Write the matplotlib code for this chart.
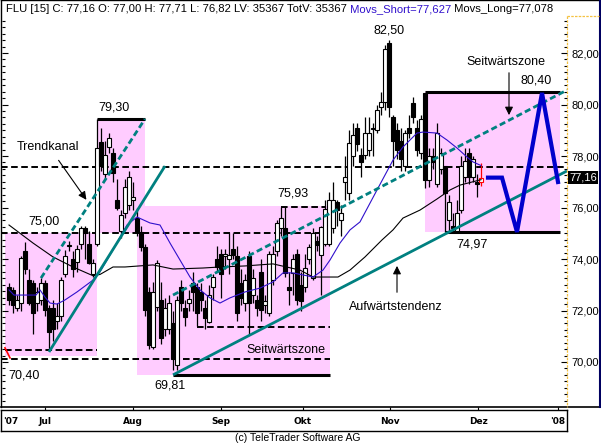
import matplotlib
matplotlib.use('Agg')
import matplotlib.pyplot as plt
from matplotlib.lines import Line2D
from matplotlib.patches import Rectangle
import numpy as np

# ---------------- data ----------------
opens = [72.9, 72.8, 72.1, 72.3, 74.3, 73.2, 73.05, 72.3, 72.4, 73.05,
         72.1, 72.1, 71.6, 71.8, 73.4, 74.5, 74.0, 73.9, 74.6, 75.2,
         74.6, 73.4, 74.6, 78.55, 77.3, 78.35, 78.1, 76.3, 75.1, 75.8,
         76.1, 76.3, 75.6, 75.05, 74.45, 72.7, 70.6, 72.15, 72.4, 71.3,
         71.3, 71.5, 69.9, 72.9, 72.1, 72.3, 73.05, 72.9, 72.7, 72.1,
         71.55, 72.9, 74.0, 74.2, 74.1, 74.0, 74.4, 74.1, 73.05, 72.3,
         74.1, 72.6, 72.4, 73.5, 72.2, 71.9, 73.2, 74.3, 75.2, 75.2,
         72.9, 73.45, 74.2, 73.0, 72.9, 74.0, 73.25, 74.7, 74.15, 74.6,
         74.6, 75.2, 76.2, 75.5, 77.0, 76.55, 78.0, 79.1, 78.05, 78.05,
         78.25, 79.1, 79.0, 79.9, 80.1, 82.4, 79.5, 79.0, 78.6, 77.6,
         79.1, 80.05, 79.1, 78.1, 80.45, 77.05, 78.0, 76.9, 77.5, 77.6,
         75.5, 75.3, 75.1, 75.9, 77.2, 78.1, 77.2, 77.0, 77.0]
highs = [73.07, 72.9, 72.6, 74.1, 74.65, 73.6, 73.2, 72.9, 73.25, 73.2,
         72.2, 72.4, 72.3, 73.3, 74.35, 74.7, 74.3, 74.55, 75.3, 75.3,
         75.1, 74.0, 79.44, 79.1, 78.6, 78.9, 78.3, 77.1, 75.9, 77.1,
         77.4, 77.0, 76.0, 75.3, 74.6, 72.9, 73.1, 73.95, 73.1, 72.5,
         72.6, 72.0, 72.55, 73.2, 72.4, 72.8, 73.5, 73.05, 73.05, 72.4,
         73.0, 73.4, 74.5, 74.4, 74.4, 75.0, 75.0, 74.5, 73.6, 73.4,
         74.3, 73.6, 72.6, 74.0, 72.6, 74.3, 74.5, 75.5, 76.02, 76.02,
         73.5, 74.2, 74.4, 73.5, 74.2, 74.6, 75.2, 74.9, 75.3, 76.3,
         76.6, 77.0, 76.3, 76.1, 78.0, 79.0, 79.3, 79.3, 78.3, 79.5,
         79.5, 79.3, 80.0, 80.5, 82.3, 82.5, 79.6, 79.3, 79.1, 79.0,
         79.6, 80.3, 79.4, 79.6, 80.45, 78.3, 78.3, 79.3, 78.3, 77.6,
         76.5, 75.8, 76.3, 78.0, 78.3, 78.3, 78.0, 77.3, 77.71]
lows = [72.2, 71.9, 72.0, 72.0, 73.4, 72.2, 71.1, 72.0, 72.2, 71.8,
        70.47, 70.8, 71.3, 71.6, 73.3, 74.3, 73.3, 73.5, 74.4, 74.0,
        73.8, 73.3, 74.5, 77.4, 77.1, 78.1, 77.0, 75.9, 74.8, 75.6,
        75.9, 75.9, 74.9, 74.3, 71.8, 70.5, 70.5, 72.0, 70.7, 71.0,
        71.1, 69.7, 69.7, 72.0, 71.4, 72.0, 72.0, 71.4, 72.0, 71.3,
        71.5, 72.4, 73.5, 72.5, 73.6, 73.4, 74.0, 71.6, 72.2, 72.0,
        71.1, 72.3, 71.8, 71.6, 71.9, 71.8, 73.0, 74.1, 74.9, 73.3,
        72.2, 72.6, 72.2, 72.0, 72.7, 73.8, 73.2, 74.3, 72.6, 74.5,
        74.5, 75.0, 75.3, 74.9, 76.3, 76.3, 77.6, 78.2, 77.2, 77.9,
        78.0, 78.0, 78.9, 79.6, 79.8, 79.5, 77.6, 77.9, 77.4, 77.4,
        78.7, 79.3, 78.0, 77.9, 76.75, 76.8, 77.5, 76.8, 77.3, 75.05,
        75.05, 75.05, 75.05, 75.8, 77.0, 76.9, 77.0, 76.4, 76.82]
closes = [72.4, 72.2, 72.4, 74.05, 73.6, 72.3, 71.9, 72.7, 73.05, 72.0,
          71.15, 71.3, 71.8, 73.2, 74.1, 74.55, 73.6, 74.4, 75.2, 75.0,
          73.85, 73.85, 78.3, 77.6, 78.05, 78.7, 77.35, 76.0, 75.7, 76.8,
          77.2, 76.4, 75.05, 74.45, 72.0, 70.65, 72.7, 73.85, 70.95, 72.1,
          72.3, 70.1, 72.4, 72.3, 71.75, 72.45, 72.7, 71.9, 72.4, 71.7,
          72.6, 73.3, 73.7, 73.4, 74.2, 74.15, 74.15, 71.9, 72.5, 73.2,
          72.3, 73.25, 72.1, 72.0, 72.35, 74.2, 74.2, 75.4, 75.6, 73.45,
          72.8, 74.0, 72.4, 72.35, 73.65, 74.45, 75.0, 74.55, 75.25, 75.95,
          76.3, 76.3, 75.9, 75.8, 77.2, 78.5, 78.8, 78.45, 77.75, 78.9,
          78.9, 79.05, 79.8, 80.1, 82.15, 79.9, 78.6, 78.25, 77.9, 78.9,
          78.9, 79.5, 78.25, 79.45, 77.05, 78.0, 77.75, 78.9, 78.1, 76.55,
          76.2, 75.2, 75.8, 77.6, 77.8, 77.2, 77.9, 76.9, 77.16]

short_ma_x = [0, 1.25, 6.75, 7.75, 9, 10.25, 12, 14, 17, 21, 22.75, 26, 27.75, 29.5, 32,
              35.25, 37.75, 40.25, 42.75, 45.25, 47.75, 50.25, 52.75, 55.25, 59,
              62.75, 66, 68.5, 71, 73.5, 76, 78.5, 80.25, 82.75, 85.25, 87.75,
              92, 96, 98.5, 102, 103.5, 107, 109.5, 112, 114.5, 116, 118]
short_ma_y = [72.80, 72.60, 72.60, 72.80, 72.52, 72.29, 72.25, 72.41, 72.72, 73.18, 73.50,
              74.35, 74.85, 75.32, 75.63, 75.40, 75.32, 74.62, 73.96, 73.30, 72.80,
              72.49, 72.29, 72.49, 72.72, 72.87, 73.11, 73.46, 73.46, 73.38, 73.30,
              73.57, 73.96, 74.62, 75.13, 75.44, 76.68, 77.84, 78.35, 78.89, 78.93,
              78.89, 78.62, 78.31, 77.96, 77.77, 77.63]
long_ma_x = [0, 6, 11, 16, 21, 22.75, 26, 29, 36, 41, 48.5, 52.75, 59, 66, 72.75,
             76, 82.25, 85.25, 89, 93.25, 96, 98.5, 102.75, 107, 110.25, 112.75, 118]
long_ma_y = [75.32, 74.62, 74.08, 73.69, 73.35, 73.40, 73.69, 73.69, 73.77, 73.61, 73.65,
             73.69, 73.73, 73.81, 73.57, 73.30, 73.30, 73.57, 74.08, 74.74, 75.13,
             75.59, 75.90, 76.33, 76.68, 76.87, 77.08]
movs_short_last = 77.627
movs_long_last = 77.078
volume = 35367

month_pos = [-1.5, 9, 31, 53, 73.5, 95.25, 117.25, 137.25]
month_labels = ["'07", "Jul", "Aug", "Sep", "Okt", "Nov", "Dez", "'08"]

# annotation geometry (index, price)
zones = [  # x0, x1, y0, y1
    (-1.0, 22.0, 70.23, 75.01),
    (22.0, 34.0, 75.01, 79.44),
    (32.0, 80.25, 69.50, 76.06),
    (104.0, 137.75, 75.05, 80.49),
]
dashed_levels = [  # price, x0, x1
    (77.58, -2.0, 139.5),
    (75.01, -2.0, 78.25),
    (70.47, -1.0, 22.0),
    (70.10, -2.0, 80.25),
    (71.36, 47.0, 80.25),
    (76.02, 68.0, 79.25),
]
solid_levels = [
    (79.44, 22.0, 34.0),
    (69.50, 41.0, 80.25),
    (80.49, 104.0, 137.75),
    (75.05, 109.0, 137.75),
]
teal_solid = [((41, 69.50), (139.5, 77.42)), ((10, 70.39), (39, 77.61))]
teal_dashed = [((8, 73.26), (34, 79.44)), ((41, 72.60), (139.5, 80.56))]
proj_x = [119.75, 123.25, 127, 133.25, 137.25]
proj_y = [77.16, 77.16, 75.05, 80.45, 76.99]

# ---------------- figure ----------------
W, H = 601, 444
fig = plt.figure(figsize=(W / 100, H / 100), dpi=100)
FONT = ['Liberation Sans', 'DejaVu Sans']
plt.rcParams['font.family'] = FONT

def fx(px):
    return px / W

def fy(py):
    return 1 - py / H

def ypix_to_price(py):
    return 82 - (py - 53) / 25.75

def xpix_to_idx(px):
    return (px - 9) / 4

ax = fig.add_axes([fx(2), fy(407), fx(567) - fx(2), fy(16) - fy(407)])
ax.set_xlim(xpix_to_idx(2), xpix_to_idx(567))
ax.set_ylim(ypix_to_price(407), ypix_to_price(16))
for s in ax.spines.values():
    s.set_visible(False)

PINK = '#FFCCFF'
TEAL = '#008080'
for x0, x1, y0, y1 in zones:
    ax.add_patch(Rectangle((x0, y0), x1 - x0, y1 - y0, facecolor=PINK, edgecolor='none', zorder=0))

for p, x0, x1 in dashed_levels:
    ax.plot([x0, x1], [p, p], color='black', lw=1.4, linestyle=(0, (3.4, 1.8)), zorder=2)
for p, x0, x1 in solid_levels:
    ax.plot([x0, x1], [p, p], color='black', lw=2.2, solid_capstyle='butt', zorder=2)

# candles
n = len(closes)
for i in range(n):
    o, h, l, c = opens[i], highs[i], lows[i], closes[i]
    last = (i == n - 1)
    col = 'red' if last else 'black'
    ax.vlines(i, l, h, color=col, lw=0.9, zorder=3)
    bottom = min(o, c)
    height = max(abs(c - o), 0.03)
    fc = 'white' if c >= o else 'black'
    ax.add_patch(Rectangle((i - 0.38, bottom), 0.76, height, facecolor=fc,
                           edgecolor=col, lw=0.8, zorder=4))

ax.plot(long_ma_x, long_ma_y, color='black', lw=0.8, zorder=5)
ax.plot(short_ma_x, short_ma_y, color='#3010CC', lw=0.8, zorder=5)

for (a, b) in teal_solid:
    ax.plot([a[0], b[0]], [a[1], b[1]], color=TEAL, lw=2.0, solid_capstyle='butt', zorder=6)
for (a, b) in teal_dashed:
    ax.plot([a[0], b[0]], [a[1], b[1]], color=TEAL, lw=2.0, linestyle=(0, (2.2, 1.2)), zorder=6)

ax.plot(proj_x, proj_y, color='#0000CC', lw=3.0, solid_joinstyle='miter', zorder=7)

# red marker lower left
ax.plot([-1.0, 0.25], [70.55, 70.16], color='red', lw=1.2, zorder=7)

# annotation texts
TXT = dict(fontsize=9, ha='center', va='center', color='black', zorder=8)
ax.text(9.75, 78.35, 'Trendkanal', **TXT)
ax.text(8.75, 75.44, '75,00', **TXT)
ax.text(3.75, 69.46, '70,40', **TXT)
ax.text(26.25, 79.90, '79,30', **TXT)
ax.text(40.25, 69.07, '69,81', **TXT)
ax.text(71.0, 76.56, '75,93', **TXT)
ax.text(69.25, 70.47, 'Seitwärtszone', **TXT)
ax.text(95.0, 82.89, '82,50', **TXT)
ax.text(124.25, 81.65, 'Seitwärtszone', **TXT)
ax.text(131.75, 80.95, '80,40', **TXT)
ax.text(115.75, 74.58, '74,97', **TXT)
ax.text(96.75, 72.14, 'Aufwärtstendenz', **TXT)

arrow_kw = dict(arrowstyle='-|>', color='black', lw=0.8, mutation_scale=12)
ax.annotate('', xy=(19.75, 76.21), xytext=(12, 77.92), arrowprops=arrow_kw, zorder=8)
ax.annotate('', xy=(125, 79.48), xytext=(125, 81.34), arrowprops=arrow_kw, zorder=8)
ax.annotate('', xy=(97, 73.84), xytext=(97, 72.6), arrowprops=arrow_kw, zorder=8)

# axes ticks
ax.yaxis.tick_right()
ax.set_yticks(np.arange(70, 83, 2))
ax.set_yticks(np.arange(68.5, 83.5, 0.25), minor=True)
ax.set_yticklabels([f'{v:.2f}'.replace('.', ',') for v in np.arange(70, 83, 2)])
ax.tick_params(axis='y', which='major', direction='in', length=4, width=0.8,
               labelsize=8, pad=3, right=True, left=True)
ax.tick_params(axis='y', which='minor', direction='in', length=2, width=0.8,
               right=True, left=True)
ax.set_xticks(month_pos[1:])
ax.set_xticklabels([])
ax.tick_params(axis='x', which='major', direction='out', length=3, width=0.8)

# frame lines (figure coords)
def fline(x0, y0, x1, y1, **kw):
    fig.add_artist(Line2D([fx(x0), fx(x1)], [fy(y0), fy(y1)], transform=fig.transFigure, **kw))

fline(0.5, 0.5, 600, 0.5, color='black', lw=1)
fline(0.5, 0.5, 0.5, 407, color='black', lw=1)
fline(0.5, 407, 600, 407, color='black', lw=1.2)
fline(599.5, 0.5, 599.5, 407, color='#000060', lw=1.5)
fline(567, 16, 567, 407, color='#F5C242', lw=0.9, linestyle=(0, (2, 1)))
fline(567, 16, 599, 16, color='#F5C242', lw=0.9, linestyle=(0, (2, 1)))

# last price tag
fig.text(fx(569), fy(177.5), f'{closes[-1]:.2f}'.replace('.', ','), color='white', fontsize=8,
         ha='left', va='center', bbox=dict(facecolor='black', edgecolor='none', pad=1.0))

# date strip
dax = fig.add_axes([fx(1), fy(431), fx(567) - fx(1), fy(410) - fy(431)])
dax.set_xlim(xpix_to_idx(1), xpix_to_idx(567))
dax.set_ylim(0, 1)
dax.set_xticks([])
dax.set_yticks([])
for s in dax.spines.values():
    s.set_linewidth(1.0)
for k, (p, lab) in enumerate(zip(month_pos, month_labels)):
    dax.text(p, 0.45, lab, ha='left' if k == 0 else 'center', va='center', fontsize=6.5,
             family=['Liberation Sans Narrow', 'DejaVu Sans'], fontweight='bold')

fig.text(fx(298), fy(437.5), '(c) TeleTrader Software AG', ha='center', va='center', fontsize=7.5)

# header
def fmt(v):
    return f'{v:.2f}'.replace('.', ',')

parts = [
    (f"FLU [15] C: {fmt(closes[-1])} O: {fmt(opens[-1])} H: {fmt(highs[-1])} L: {fmt(lows[-1])} "
     f"LV: {volume} TotV: {volume}", 'black'),
    (f" Movs_Short={movs_short_last:.3f}".replace('.', ','), '#3010CC'),
    (f" Movs_Long={movs_long_last:.3f}".replace('.', ','), 'black'),
]
renderer = fig.canvas.get_renderer()
xpos = fx(6)
for s, c in parts:
    t = fig.text(xpos, fy(9), s, color=c, fontsize=8.1, ha='left', va='center')
    bb = t.get_window_extent(renderer)
    xpos = bb.x1 / W

fig.savefig('out.png', dpi=100)
